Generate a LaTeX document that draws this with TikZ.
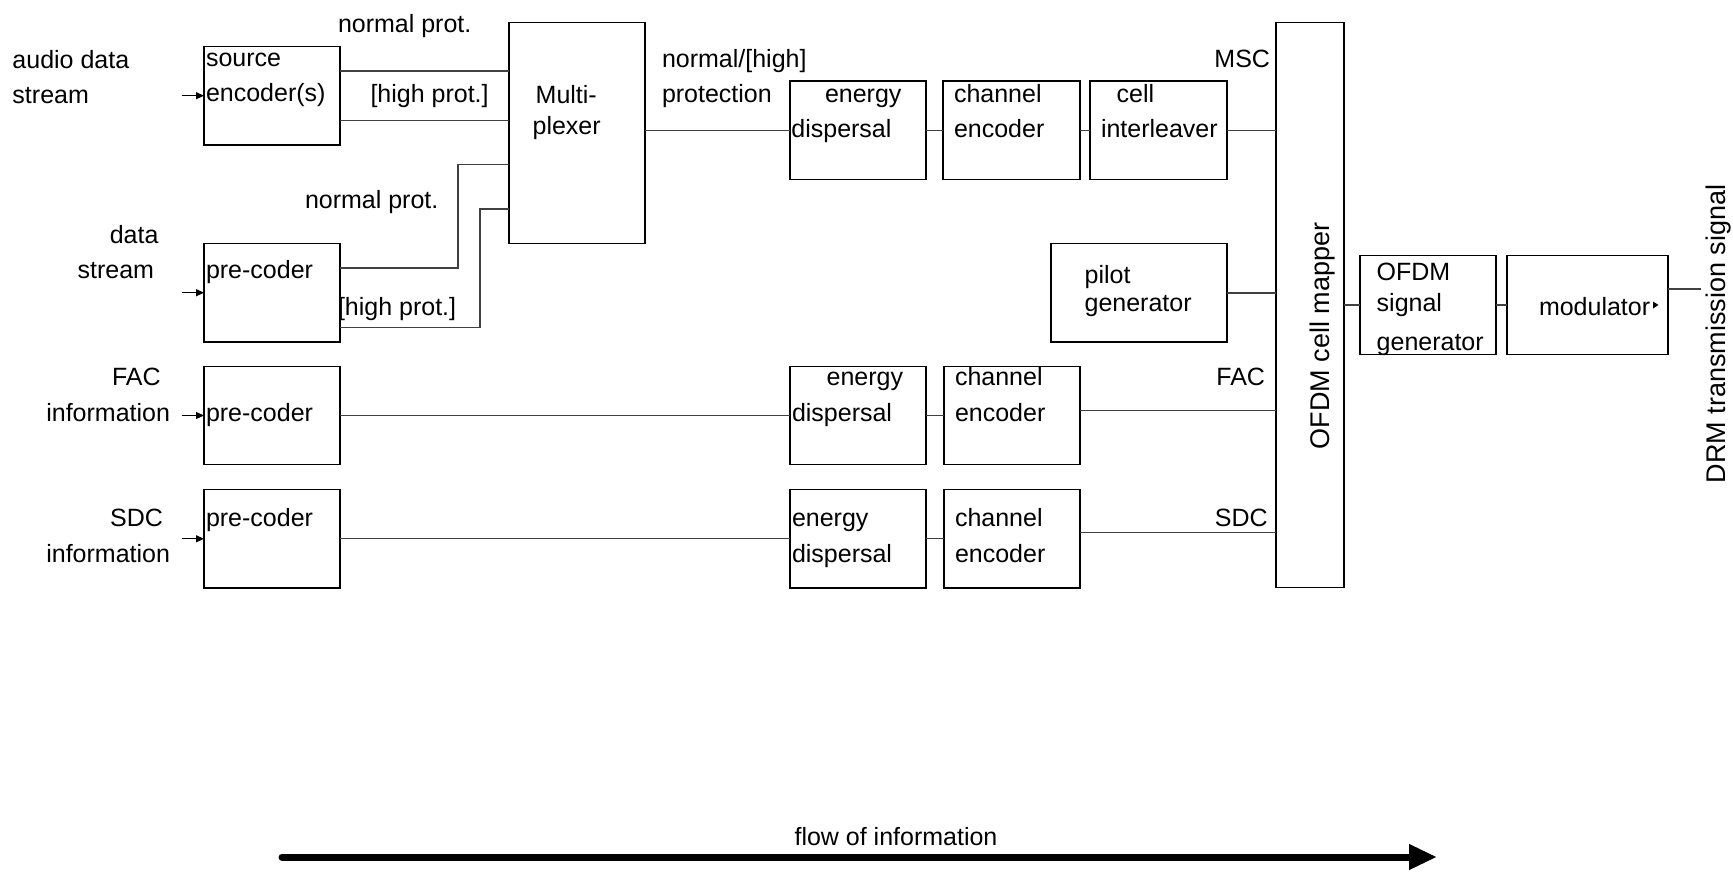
\documentclass[tikz,border=0pt]{standalone}
\usepackage{fontspec}
\setmainfont{Liberation Sans}
\usetikzlibrary{arrows.meta,calc}
\begin{document}
\begin{tikzpicture}[x=1pt,y=-1pt,
  box/.style={draw, line width=1.4pt, inner sep=0pt, outer sep=0pt,
              minimum width=136pt, minimum height=98.5pt},
  conn/.style={draw=black!75, line width=1.2pt},
  inarrow/.style={line width=1.2pt, -{Triangle[length=8pt,width=7pt]}},
  txt/.style={inner sep=0pt, outer sep=0pt, font=\fontsize{25}{30}\selectfont, anchor=base west},
  txtr/.style={txt, anchor=base east},
  vtxt/.style={inner sep=0pt, outer sep=0pt, font=\fontsize{27}{32}\selectfont, rotate=90, anchor=base}]
\useasboundingbox (0,0) rectangle (1733,871);

% ---- blocks ----
\node[box] (srcenc) at (272,95.7) {};
\node[box] (precD) at (272,292.7) {};
\node[box] (precF) at (272,415.5) {};
\node[box] (precS) at (272,538.8) {};
\node[box, minimum height=221pt] (mux) at (577,132.8) {};
\node[box] (edM) at (858,130.3) {};
\node[box, minimum width=137pt] (ceM) at (1011.5,130.3) {};
\node[box, minimum width=137pt] (ciM) at (1158.5,130.3) {};
\node[box, minimum width=176pt] (pilot) at (1139,292.9) {};
\node[box] (edF) at (858,415.5) {};
\node[box] (ceF) at (1012,415.5) {};
\node[box] (edS) at (858,538.8) {};
\node[box] (ceS) at (1012,538.8) {};
\node[box, minimum width=68pt, minimum height=565pt] (mapper) at (1310,304.8) {};
\node[box] (ofdmgen) at (1428,305) {};
\node[box, minimum width=161pt] (mod) at (1587.5,305) {};

% ---- inputs ----
\draw[inarrow] ([xshift=-22.5pt]srcenc.west) -- (srcenc.west);
\draw[inarrow] ([xshift=-22.5pt]precD.west) -- (precD.west);
\draw[inarrow] ([xshift=-22.5pt]precF.west) -- (precF.west);
\draw[inarrow] ([xshift=-22.5pt]precS.west) -- (precS.west);

% ---- connectors ----
\coordinate (s1) at ($(srcenc.north east)!.25!(srcenc.south east)$);
\coordinate (s2) at ($(srcenc.north east)!.75!(srcenc.south east)$);
\draw[conn] (s1) -- (s1 -| mux.west);
\draw[conn] (s2) -- (s2 -| mux.west);

\coordinate (d1) at ($(precD.north east)!.25!(precD.south east)$);
\coordinate (d2) at ($(precD.north east)!.85!(precD.south east)$);
\coordinate (j1) at (458,164.3);
\coordinate (j2) at (480,209);
\draw[conn] (d1) -| (j1) -- (j1 -| mux.west);
\draw[conn] (d2) -| (j2) -- (j2 -| mux.west);

\draw[conn] (edM.west -| mux.east) -- (edM.west);
\draw[conn] (edM) -- (ceM);
\draw[conn] (ceM) -- (ciM);
\draw[conn] (ciM.east) -- (ciM.east -| mapper.west);
\draw[conn] (pilot.east) -- (pilot.east -| mapper.west);

\draw[conn] (precF) -- (edF);
\draw[conn] (edF) -- (ceF);
\draw[conn] ([yshift=5pt]ceF.east) -- ([yshift=5pt]ceF.east -| mapper.west);

\draw[conn] (precS) -- (edS);
\draw[conn] (edS) -- (ceS);
\draw[conn] ([yshift=6.5pt]ceS.east) -- ([yshift=6.5pt]ceS.east -| mapper.west);

\draw[conn] (mapper.east |- ofdmgen.west) -- (ofdmgen.west);
\draw[conn] (ofdmgen) -- (mod);
\coordinate (txout) at (1701,289);
\draw[conn] (txout -| mod.east) -- (txout);
\fill (1653,301.5) -- (1658.5,305) -- (1653,308.5) -- cycle;

% ---- labels ----
\node[txt] (l1) at (12.5,68.3) {audio data};
\node[txt] (l2) at (12.5,103.3) {stream};
\node[txt] (l3) at (206,66.7) {source};
\node[txt] (l4) at (206,101.7) {encoder(s)};
\node[txt] (l5) at (338,32) {normal prot.};
\node[txt] (l6) at (370.5,102) {[high prot.]};
\node[txt] (l7) at (535.7,103) {Multi-};
\node[txt] (l8) at (532.6,134.5) {plexer};
\node[txt] (l9) at (305,208) {normal prot.};
\node[txtr] (l10) at (158.5,243.3) {data};
\node[txtr] (l11) at (154,278.3) {stream};
\node[txt] (l12) at (206,278) {pre-coder};
\node[txt] (l13) at (338,315) {[high prot.]};
\node[txt] (l14) at (662,67) {normal/[high]};
\node[txt] (l15) at (662,102) {protection};
\node[txt] (l16) at (825,102) {energy};
\node[txt] (l17) at (791.4,137) {dispersal};
\node[txt] (l18) at (954,102.5) {channel};
\node[txt] (l19) at (954,137) {encoder};
\node[txt] (l20) at (1116.7,102.5) {cell};
\node[txt] (l21) at (1101,137) {interleaver};
\node[txtr] (l22) at (1270,67) {MSC};
\node[txt] (l23) at (1084.6,283) {pilot};
\node[txt] (l24) at (1084.6,311) {generator};
\node[txt] (l25) at (1376.7,280) {OFDM};
\node[txt] (l26) at (1376.7,311.7) {signal};
\node[txt] (l27) at (1376.7,350) {generator};
\node[txt] (l28) at (1539,315.5) {modulator};
\node[txtr] (l29) at (160.7,385) {FAC};
\node[txtr] (l30) at (170,421) {information};
\node[txt] (l31) at (206,421) {pre-coder};
\node[txt] (l32) at (826.6,385) {energy};
\node[txt] (l33) at (792,421) {dispersal};
\node[txt] (l34) at (955,385) {channel};
\node[txt] (l35) at (955,421) {encoder};
\node[txtr] (l36) at (1265,385) {FAC};
\node[txtr] (l37) at (163,526.7) {SDC};
\node[txtr] (l38) at (170,562.7) {information};
\node[txt] (l39) at (206,526.7) {pre-coder};
\node[txt] (l40) at (792,526.7) {energy};
\node[txt] (l41) at (792,562.7) {dispersal};
\node[txt] (l42) at (955,526.7) {channel};
\node[txt] (l43) at (955,562.7) {encoder};
\node[txtr] (l44) at (1267.6,526.7) {SDC};
\node[vtxt] (l45) at (1329,336) {OFDM cell mapper};
\node[vtxt] (l46) at (1725,334) {DRM transmission signal};

% ---- flow arrow ----
\coordinate (flowA) at (282,857);
\coordinate (flowB) at (1437,857);
\draw[line width=7pt, line cap=round, -{Triangle[length=28pt,width=24pt]}] (flowA) -- (flowB);
\node[txt, anchor=base] (flowlbl) at (896,845) {flow of information};
\end{tikzpicture}
\end{document}
